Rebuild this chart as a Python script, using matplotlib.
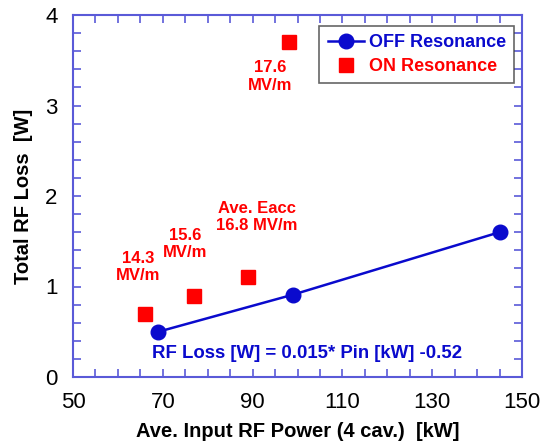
import numpy as np
import matplotlib.pyplot as plt
from matplotlib.ticker import MultipleLocator

plt.rc('font', family='Liberation Sans')

# OFF resonance (fit line through these)
off_pin = [69, 99, 145]
off_loss = [0.5, 0.91, 1.6]

# ON resonance
on_pin = [66, 77, 89, 98]
on_loss = [0.7, 0.9, 1.1, 3.7]
on_labels = ['14.3\nMV/m', '15.6\nMV/m', 'Ave. Eacc\n16.8 MV/m', '17.6\nMV/m']
label_pos = [(64.5, 1.215), (74.9, 1.47), (90.9, 1.77), (93.9, 3.32)]

blue = '#0a0acd'
red = '#ff0000'
frame = '#5a5ad8'

fig = plt.figure(figsize=(5.43, 4.45), dpi=100)
ax = fig.add_axes([73 / 543, 1 - 377 / 445, 449 / 543, 362 / 445])

ax.plot(off_pin, off_loss, '-o', color=blue, lw=1.8, ms=10.5,
        label='OFF Resonance', zorder=3)
ax.plot(on_pin, on_loss, 's', color=red, ms=10.5, ls='none',
        label='ON Resonance', zorder=3)

for txt, (x, y) in zip(on_labels, label_pos):
    ax.text(x, y, txt, color=red, fontsize=12, fontweight='bold',
            ha='center', va='center', linespacing=1.2)

ax.text(102.2, 0.255, 'RF Loss [W] = 0.015* Pin [kW] -0.52', color=blue,
        fontsize=13.4, fontweight='bold', ha='center', va='center')

ax.set_xlim(50, 150)
ax.set_ylim(0, 4)
ax.set_xticks([50, 70, 90, 110, 130, 150])
ax.set_yticks([0, 1, 2, 3, 4])
ax.xaxis.set_minor_locator(MultipleLocator(5))
ax.yaxis.set_minor_locator(MultipleLocator(0.2))
ax.tick_params(which='both', direction='in', top=True, right=True,
               color=frame, width=1.2)
ax.tick_params(which='major', length=6, labelsize=16)
ax.tick_params(axis='x', which='major', pad=11)
ax.tick_params(axis='y', which='major', pad=11)
ax.tick_params(which='minor', length=6)
for s in ax.spines.values():
    s.set_color(frame)
    s.set_linewidth(1.5)

ax.set_xlabel('Ave. Input RF Power (4 cav.)  [kW]', fontsize=14.5,
              fontweight='bold', labelpad=6)
ax.set_ylabel('Total RF Loss  [W]', fontsize=14.5, fontweight='bold',
              labelpad=9)

leg = ax.legend(loc='upper right', bbox_to_anchor=(0.983, 0.97), fontsize=13,
                frameon=True, fancybox=False, edgecolor='#404040',
                handlelength=2.0, handletextpad=0.3, borderpad=0.45,
                labelspacing=0.4, borderaxespad=0.0)
leg.get_frame().set_linewidth(1.2)
for t, c in zip(leg.get_texts(), [blue, red]):
    t.set_color(c)
    t.set_fontweight('bold')

plt.savefig('out.png', dpi=100)
